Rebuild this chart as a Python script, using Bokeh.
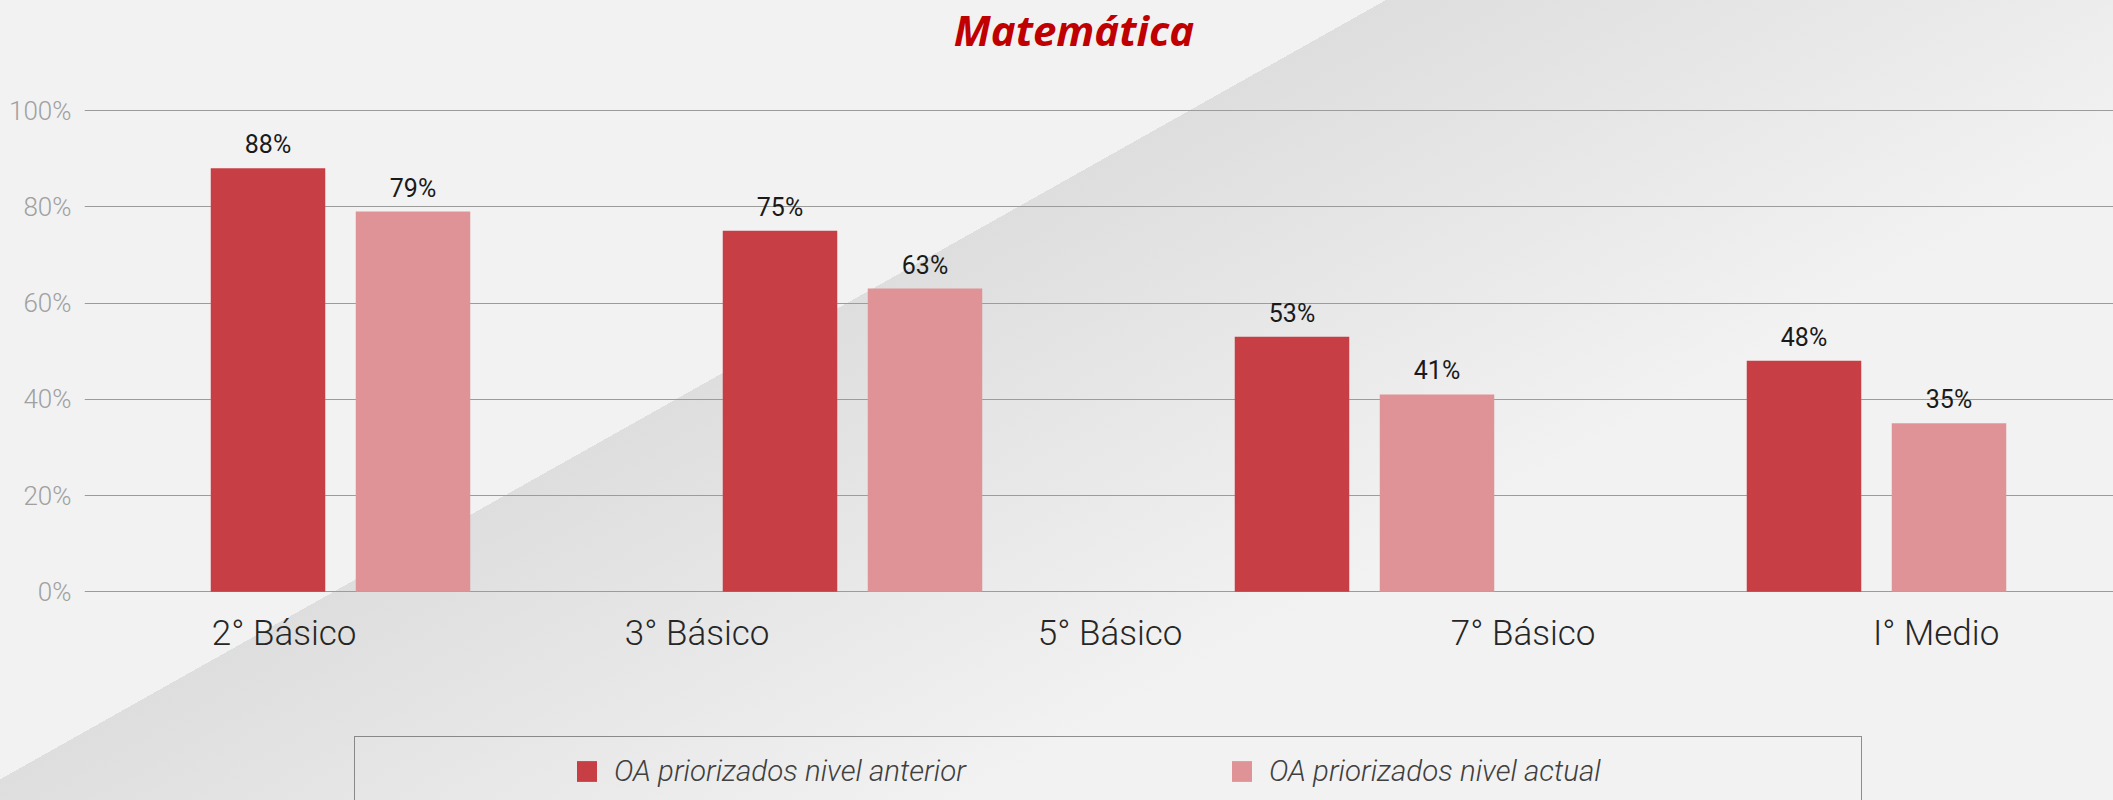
from bokeh.plotting import figure
from bokeh.models import (ColumnDataSource, Range1d, LinearAxis, FixedTicker,
                          LabelSet, Label, Legend, LegendItem)
from bokeh.core.properties import value
from bokeh.transform import dodge
from bokeh.embed import file_html
from bokeh.resources import INLINE

# ---------------- data ----------------
levels = ["2° Básico", "3° Básico", "5° Básico", "7° Básico", "I° Medio"]
series_names = ["OA priorizados nivel anterior", "OA priorizados nivel actual"]
groups = [0, 1, 2, 3]
anterior = [88, 75, 53, 48]
actual = [79, 63, 41, 35]
ytick_values = [0, 20, 40, 60, 80, 100]
ytick_labels = ["0%", "20%", "40%", "60%", "80%", "100%"]
title_text = "Matemática"

# ---------------- layout / styles ----------------
DARK = "#C83E45"
LIGHT = "#E09396"
W, H = 2113, 800
LEFT = 84                 # frame left edge (px)
FRAME_W = W - LEFT
ZERO_PX = 591.3           # pixel row of the 0 % line
PX_PER_UNIT = 4.813       # pixels per percentage point
PX_BAR_GROUP = 512.0      # width of one bar group
PX_LABEL_GROUP = 413.0    # width of one label slot
LABEL_START = 0.0167
OFF = 72.5 / PX_BAR_GROUP
BAR_W = 114.5 / PX_BAR_GROUP

src = ColumnDataSource(dict(
    x=[g + 0.5 for g in groups],
    anterior=anterior,
    actual=actual,
    lab_ant=[f"{v}%" for v in anterior],
    lab_act=[f"{v}%" for v in actual],
))

p = figure(width=W, height=H, output_backend="svg", toolbar_location=None,
           x_range=Range1d(0, FRAME_W / PX_BAR_GROUP),
           y_range=Range1d(-(H - ZERO_PX) / PX_PER_UNIT, ZERO_PX / PX_PER_UNIT),
           x_axis_location=None,
           min_border_left=LEFT, min_border_right=0,
           min_border_top=0, min_border_bottom=0)

p.title.visible = False
p.background_fill_alpha = 0
p.border_fill_alpha = 0
p.outline_line_color = None
p.styles = {"background": "linear-gradient(150.65deg, #F2F2F2 0%, #F2F2F2 39.2%, "
                          "#DEDEDE 39.2%, #F2F2F2 67.6%, #F2F2F2 100%)"}

# title
p.add_layout(Label(x=1073.5 - LEFT, y=H - 28.5, x_units="screen", y_units="screen",
                   text=title_text, text_align="center", text_baseline="alphabetic",
                   text_font="Open Sans", text_font_style="bold italic",
                   text_font_size="42px", text_color="#C00000"))

# grid
p.ygrid.ticker = FixedTicker(ticks=ytick_values)
p.ygrid.grid_line_color = "#9C9C9C"
p.ygrid.grid_line_width = 1
p.xgrid.visible = False

# bars
r1 = p.vbar(x=dodge("x", -OFF, range=p.x_range), top="anterior", width=BAR_W,
            source=src, fill_color=DARK, line_color=None)
r2 = p.vbar(x=dodge("x", OFF, range=p.x_range), top="actual", width=BAR_W,
            source=src, fill_color=LIGHT, line_color=None)

for col, top, off in (("lab_ant", "anterior", -OFF), ("lab_act", "actual", OFF)):
    p.add_layout(LabelSet(x=dodge("x", off, range=p.x_range), y=top, text=col,
                          source=src, text_align="center", text_baseline="bottom",
                          y_offset=9, text_font=value("Roboto"),
                          text_font_size=value("25px"), text_color=value("#1A1A1A")))

# y axis
yax = p.yaxis[0]
yax.ticker = FixedTicker(ticks=ytick_values)
yax.major_label_overrides = {v: l for v, l in zip(ytick_values, ytick_labels)}
yax.axis_line_color = None
yax.major_tick_line_color = None
yax.minor_tick_line_color = None
yax.major_label_standoff = 7
yax.major_label_text_font = "Roboto Light"
yax.major_label_text_font_size = "26px"
yax.major_label_text_color = "#A0A0A0"

# category label axis, drawn on the 0 % line
p.extra_x_ranges = {"levels": Range1d(LABEL_START, LABEL_START + FRAME_W / PX_LABEL_GROUP)}
xax = LinearAxis(x_range_name="levels", fixed_location=0)
lvl_ticks = [i + 0.5 for i in range(len(levels))]
xax.ticker = FixedTicker(ticks=lvl_ticks)
xax.major_label_overrides = {t: l for t, l in zip(lvl_ticks, levels)}
xax.axis_line_color = None
xax.major_tick_line_color = None
xax.minor_tick_line_color = None
xax.major_label_standoff = 15
xax.major_label_text_font = "Roboto Light"
xax.major_label_text_font_size = "35px"
xax.major_label_text_color = "#262626"
p.add_layout(xax, "below")

# legend
legend = Legend(items=[LegendItem(label=series_names[0], renderers=[r1]),
                       LegendItem(label=series_names[1], renderers=[r2])],
                orientation="horizontal", location=(354 - LEFT, -6),
                padding=17, spacing=40, glyph_width=25, glyph_height=26,
                label_standoff=15, label_width=575, label_height=34,
                label_text_font="Roboto Light", label_text_font_style="italic",
                label_text_font_size="29.5px", label_text_color="#404040",
                border_line_color="#2B2B2B", border_line_width=1,
                background_fill_alpha=0,
                title="\u00a0", title_location="left", title_standoff=170,
                title_text_font_size="28px")
p.add_layout(legend, "center")

open("out.html", "w").write(file_html(p, INLINE))
